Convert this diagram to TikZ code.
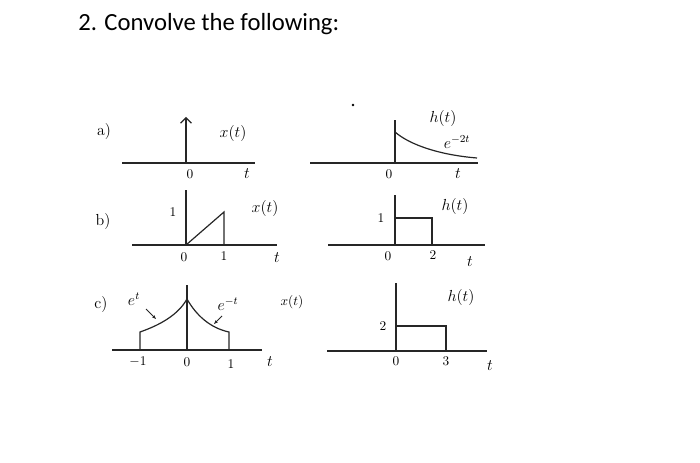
\documentclass[tikz,border=0pt]{standalone}
\usepackage{fontspec}
\newfontfamily\titlefont{Carlito}
\usetikzlibrary{arrows.meta}
\begin{document}
\begin{tikzpicture}[x=0.75pt,y=-0.75pt,
  ln/.style={line width=0.9pt,draw=black!85},
  lbl/.style={font=\large,inner sep=0pt},
  tk/.style={font=\normalsize,inner sep=0pt}]
\useasboundingbox (0,0) rectangle (700,463);
\node[anchor=west,inner sep=0pt,font=\titlefont\fontsize{18.5}{21}\selectfont] (title) at (78,24) {2. Convolve the following:};
% a) left
\node[lbl] (la) at (104,132) {a)};
\draw[ln] (122,163) -- (255,163);
\draw[ln,-{Straight Barb[length=4pt]}] (186,163) -- (186,117);
\node[tk] at (190,174) {0};
\node[lbl] at (247,174) {$t$};
\node[lbl] at (233,134) {$x(t)$};
% a) right
\draw[ln] (310,163) -- (478,163);
\draw[ln] (395,163) -- (395,120);
\draw[ln] (395,132) .. controls (410,145) and (440,155) .. (477,158);
\fill (353,105) circle (1pt);
\node[tk] at (389,174) {0};
\node[lbl] at (458,174) {$t$};
\node[lbl] at (443,119) {$h(t)$};
\node[lbl] at (457,142) {$e^{-2t}$};
% b) left
\node[lbl] (lb) at (103,222) {b)};
\draw[ln] (132,245) -- (277,245);
\draw[ln] (186,245) -- (186,190);
\draw[ln] (186,245) -- (224,212) -- (224,245);
\node[tk] at (173,212) {1};
\node[tk] at (184,257) {0};
\node[tk] at (224,256) {1};
\node[lbl] at (277,258) {$t$};
\node[lbl] at (265,209) {$x(t)$};
% b) right
\draw[ln] (328,245) -- (485,245);
\draw[ln] (395,245) -- (395,195);
\draw[ln] (395,218) -- (432,218) -- (432,245);
\node[tk] at (381,218) {1};
\node[tk] at (388,256) {0};
\node[tk] at (433,255) {2};
\node[lbl] at (470,262) {$t$};
\node[lbl] at (455,207) {$h(t)$};
% c) left
\node[lbl] (lc) at (101,305) {c)};
\draw[ln] (112,350) -- (262,350);
\draw[ln] (187,350) -- (187,285);
\draw[ln] (140,350) -- (140,332) .. controls (160,325) and (178,315) .. (187,299)
  .. controls (196,315) and (210,328) .. (229,332) -- (229,350);
\node[tk] at (138,362) {$-1$};
\node[tk] at (187,362) {0};
\node[tk] at (231,364) {1};
\node[lbl] at (270,362) {$t$};
\node[lbl] (et) at (134,299) {$e^{t}$};
\draw[ln,line width=0.6pt,-{Stealth[length=3pt]}] (146,309) -- (156,319);
\node[lbl] (emt) at (228,304) {$e^{-t}$};
\draw[ln,line width=0.6pt,-{Stealth[length=3pt]}] (222,316) -- (214,324);
\node[tk] at (292,302) {$x(t)$};
% c) right
\draw[ln] (327,351) -- (487,351);
\draw[ln] (396,351) -- (396,283);
\draw[ln] (396,326) -- (446,326) -- (446,351);
\node[tk] at (383,326) {2};
\node[tk] at (396,361) {0};
\node[tk] at (446,361) {3};
\node[lbl] at (490,366) {$t$};
\node[lbl] at (461,298) {$h(t)$};
\end{tikzpicture}
\end{document}
